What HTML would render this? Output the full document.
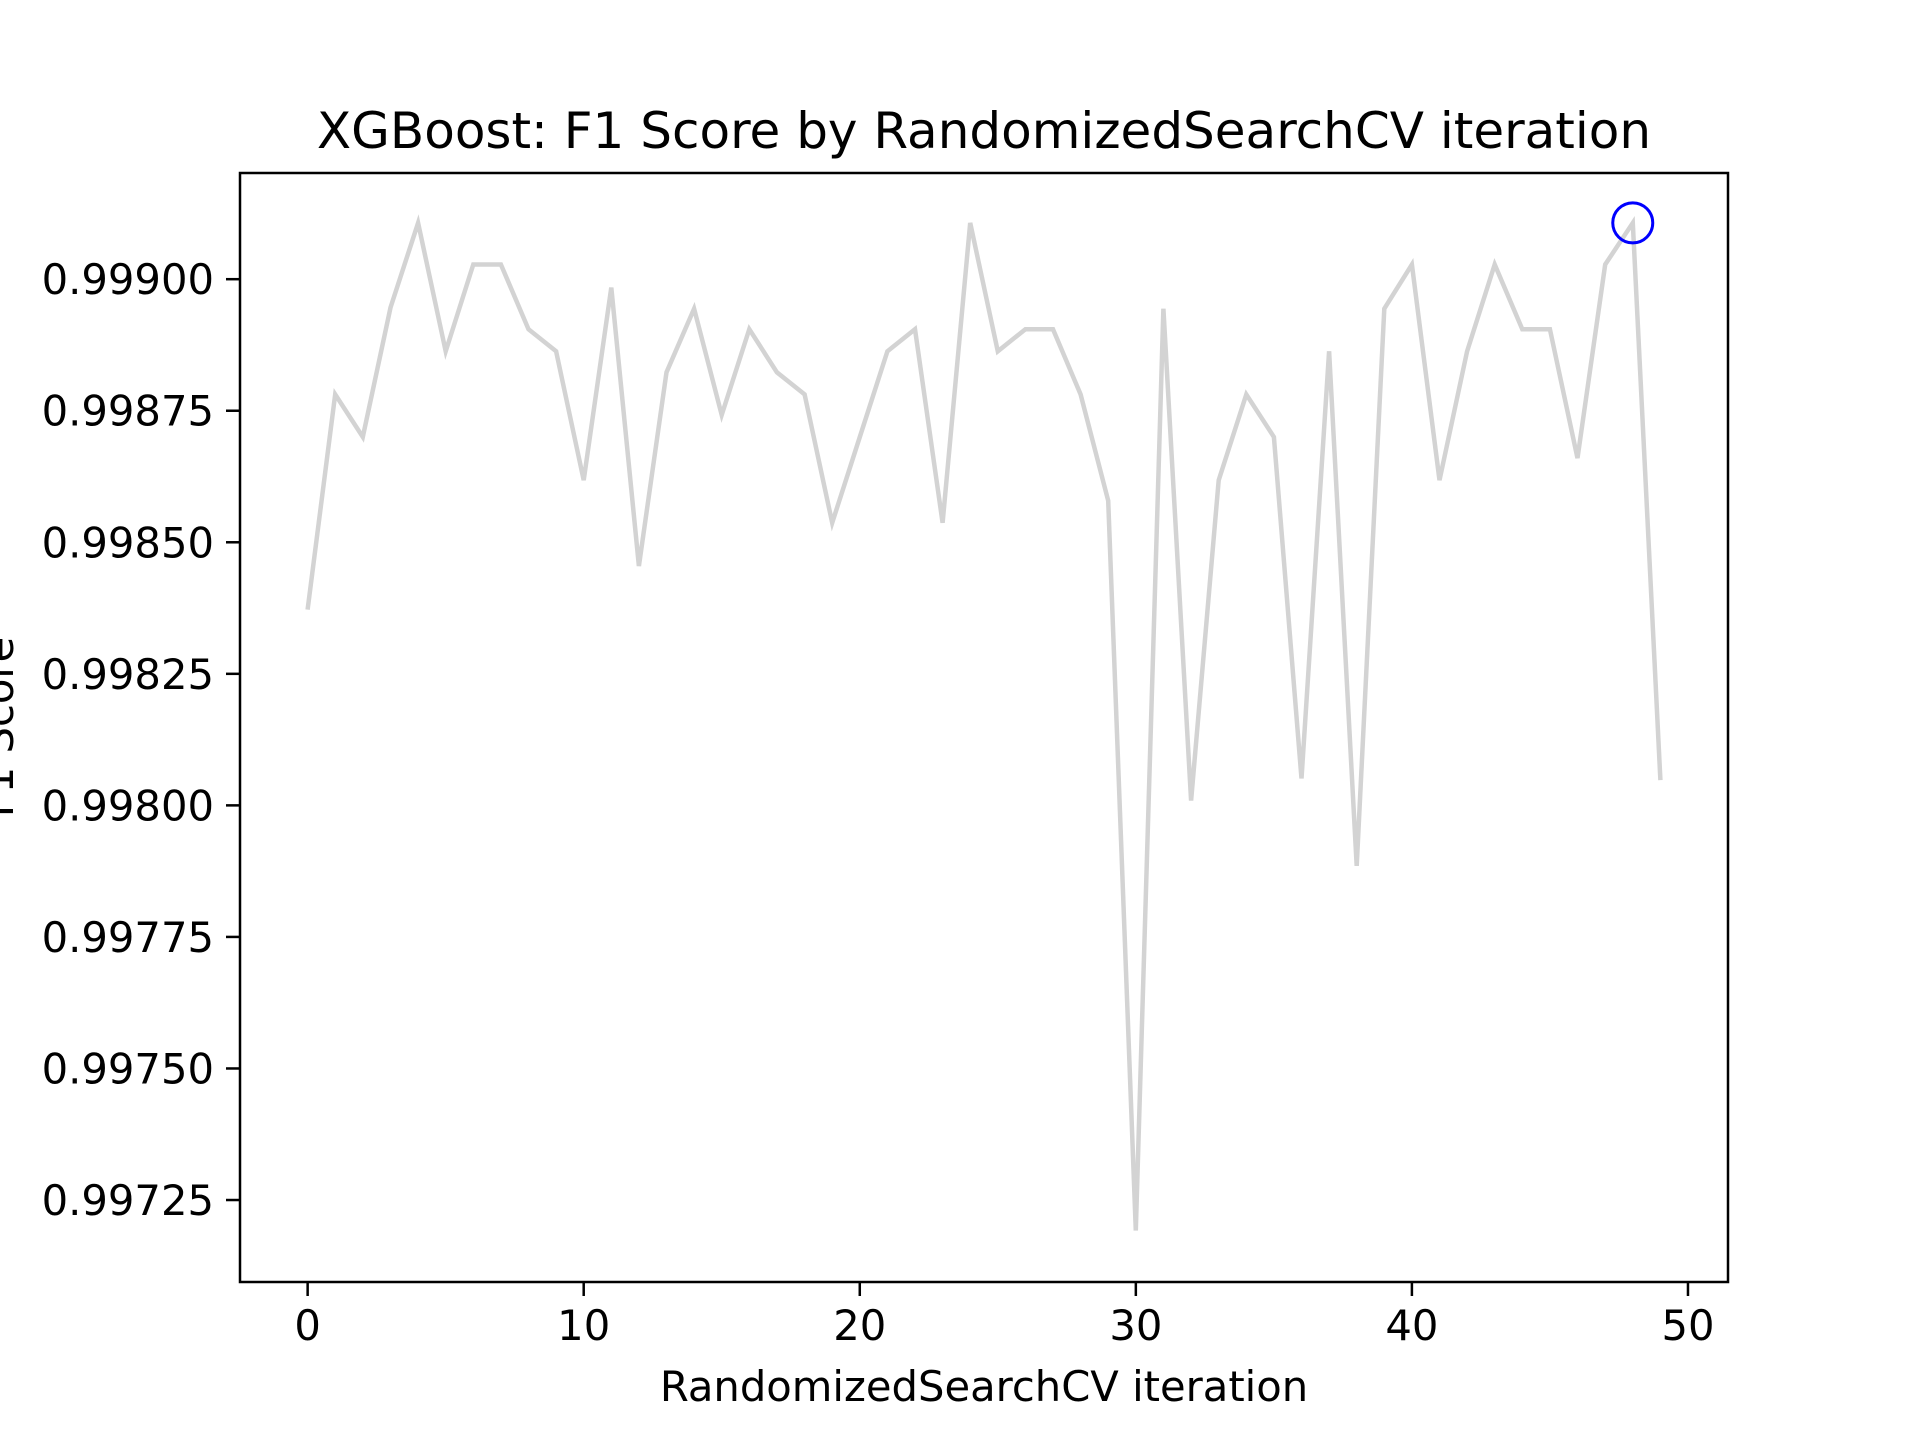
<!DOCTYPE html>
<html><head><meta charset="utf-8"><style>
html,body{margin:0;padding:0;background:#fff}
svg{display:block}
text{font-family:"DejaVu Sans","Liberation Sans",sans-serif;fill:#000}
</style></head><body>
<svg id="chart" width="1920" height="1440" viewBox="0 0 1920 1440" xmlns="http://www.w3.org/2000/svg">
<rect width="1920" height="1440" fill="#fff"/>
<text x="984" y="148" font-size="50" text-anchor="middle">XGBoost: F1 Score by RandomizedSearchCV iteration</text>
<g id="plot"></g>
<rect x="240" y="173" width="1488" height="1109" fill="none" stroke="#000" stroke-width="2.5"/>
<text x="984" y="1401" font-size="41.7" text-anchor="middle">RandomizedSearchCV iteration</text>
<text transform="translate(13,727) rotate(-90)" font-size="41.7" text-anchor="middle">F1 Score</text>
</svg>
<script>
const iterations = [0,1,2,3,4,5,6,7,8,9,10,11,12,13,14,15,16,17,18,19,20,21,22,23,24,25,26,27,28,29,30,31,32,33,34,35,36,37,38,39,40,41,42,43,44,45,46,47,48,49];
const f1Scores = [0.998372,0.998781,0.998700,0.998946,0.999107,0.998863,0.999028,0.999028,0.998905,0.998863,
0.998618,0.998984,0.998455,0.998823,0.998944,0.998742,0.998905,0.998823,0.998781,0.998537,
0.998700,0.998863,0.998905,0.998537,0.999107,0.998863,0.998905,0.998905,0.998781,0.998579,
0.997192,0.998944,0.998009,0.998618,0.998781,0.998700,0.998051,0.998863,0.997885,0.998944,
0.999028,0.998618,0.998863,0.999028,0.998905,0.998905,0.998660,0.999028,0.999107,0.998048];
const xTicks = [0,10,20,30,40,50];
const yTicks = [0.99725,0.99750,0.99775,0.99800,0.99825,0.99850,0.99875,0.99900];
const yTickLabels = ["0.99725","0.99750","0.99775","0.99800","0.99825","0.99850","0.99875","0.99900"];
const bestIndex = 48;

const NS="http://www.w3.org/2000/svg";
const X0=240,X1=1728,Y0=173,Y1=1282;
const xMin=-2.45,xMax=51.45;
const yMin=0.9970942,yMax=0.9992018;
function sx(v){return X0+(v-xMin)/(xMax-xMin)*(X1-X0);}
function sy(v){return Y1-(v-yMin)/(yMax-yMin)*(Y1-Y0);}
const g=document.getElementById('plot');
function mk(t,a){const e=document.createElementNS(NS,t);for(const k in a)e.setAttribute(k,a[k]);g.appendChild(e);return e;}

xTicks.forEach(v=>{
  const l=mk('line',{x1:sx(v),x2:sx(v),y1:Y1,y2:Y1+14,stroke:'#000','stroke-width':2.5});
  
  
  const t=mk('text',{x:sx(v),y:Y1+58,'font-size':41.7,'text-anchor':'middle'});
  t.textContent=String(v);
  
  
});
yTicks.forEach((v,i)=>{
  const l=mk('line',{x1:X0-14,x2:X0,y1:sy(v),y2:sy(v),stroke:'#000','stroke-width':2.5});
  
  
  const t=mk('text',{x:X0-26,y:sy(v)+15,'font-size':41.7,'text-anchor':'end'});
  t.textContent=yTickLabels[i];
  
  
});
const pts=iterations.map((x,i)=>sx(x).toFixed(1)+','+sy(f1Scores[i]).toFixed(1)).join(' ');
const line=mk('polyline',{points:pts,fill:'none',stroke:'#d3d3d3','stroke-width':4.5,'stroke-linejoin':'miter'});


const c=mk('circle',{cx:sx(iterations[bestIndex]),cy:sy(f1Scores[bestIndex]),r:20,fill:'none',stroke:'#0000ff','stroke-width':3});


</script>
</body></html>
